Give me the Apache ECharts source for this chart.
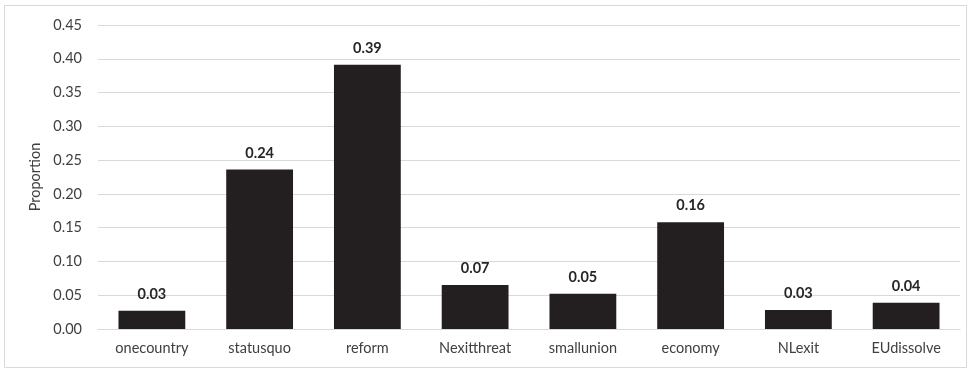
<!DOCTYPE html>
<html>
<head>
<meta charset="utf-8">
<script src="https://cdn.jsdelivr.net/npm/echarts@6/dist/echarts.min.js"></script>
<style>
  html, body { margin: 0; padding: 0; background: #ffffff; }
  #chart { width: 978px; height: 371px; }
</style>
</head>
<body>
<div id="chart"></div>
<script>
// Topic categories and their proportions
const categories = ['onecountry', 'statusquo', 'reform', 'Nexitthreat', 'smallunion', 'economy', 'NLexit', 'EUdissolve'];
const proportions = [0.027, 0.236, 0.391, 0.065, 0.052, 0.158, 0.028, 0.039];
const yTicks = { min: 0, max: 0.45, interval: 0.05 };

const font = 'Lato, "Open Sans", sans-serif';
const chart = echarts.init(document.getElementById('chart'), null, { renderer: 'canvas' });

chart.setOption({
  animation: false,
  backgroundColor: '#ffffff',
  graphic: [{
    type: 'rect',
    shape: { x: 4.5, y: 5.5, width: 962, height: 362 },
    style: { fill: 'none', stroke: '#d9d9d9', lineWidth: 1 },
    silent: true
  }],
  grid: { left: 98, right: 18, top: 25, bottom: 42, containLabel: false },
  xAxis: {
    type: 'category',
    data: categories,
    axisLine: { show: true, lineStyle: { color: '#d9d9d9', width: 1 } },
    axisTick: { show: false },
    axisLabel: { color: '#404040', fontFamily: font, fontSize: 14.5, margin: 12 }
  },
  yAxis: {
    type: 'value',
    min: yTicks.min,
    max: yTicks.max,
    interval: yTicks.interval,
    name: 'Proportion',
    nameLocation: 'middle',
    nameGap: 49,
    nameRotate: 90,
    nameTextStyle: { color: '#404040', fontFamily: font, fontSize: 14.5 },
    axisLine: { show: false },
    axisTick: { show: false },
    splitLine: { lineStyle: { color: '#d9d9d9', width: 1 } },
    axisLabel: {
      color: '#404040', fontFamily: font, fontSize: 14.5, margin: 16,
      formatter: v => v.toFixed(2)
    }
  },
  series: [{
    type: 'bar',
    data: proportions,
    barCategoryGap: '38%',
    itemStyle: { color: '#231f20' },
    label: {
      show: true,
      position: 'top',
      distance: 9,
      color: '#262626',
      fontFamily: font,
      fontSize: 14.5,
      fontWeight: 'bold',
      formatter: p => p.value.toFixed(2)
    }
  }]
});
</script>
</body>
</html>
